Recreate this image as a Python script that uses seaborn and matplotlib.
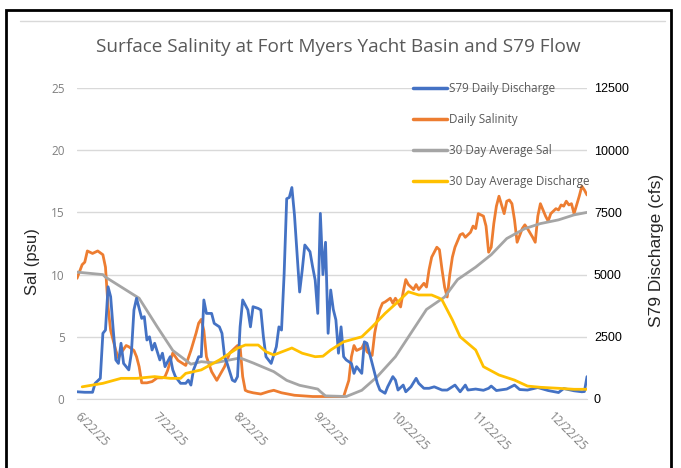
import pandas as pd
import matplotlib.pyplot as plt
from matplotlib.lines import Line2D
from matplotlib.patches import Rectangle
import seaborn as sns

start = pd.Timestamp("2025-06-22")

# daily salinity (psu), days after 6/22/25
sal_days = [0, 2, 3, 4, 6, 7, 8, 10, 11, 12, 13, 15, 16, 17, 19, 20, 22, 23, 24, 25,
            27, 29, 31, 33, 34, 35, 37, 38, 39, 42, 44, 46, 47, 48, 49, 50, 52, 54, 57, 59,
            62, 63, 64, 65, 66, 68, 71, 74, 76, 79, 84, 91, 103, 105, 106, 107, 108, 110, 111, 112,
            114, 115, 116, 117, 118, 119, 121, 122, 123, 125, 126, 127, 128, 130, 131, 132, 134, 135, 136, 137,
            139, 140, 141, 142, 143, 144, 145, 146, 148, 149, 150, 152, 153, 154, 155, 157, 158, 159, 160, 161,
            162, 163, 165, 166, 167, 168, 169, 170, 172, 173, 174, 176, 177, 178, 179, 181, 182, 183, 185, 186,
            187, 188, 189, 190, 191, 192, 194, 195, 196, 197]
sal_vals = [9.7, 10.8, 11.0, 11.9, 11.7, 11.8, 11.9, 11.6, 10.6, 7.4, 5.5, 3.9, 3.3, 3.7, 4.3, 4.2, 3.9, 3.4, 2.6, 1.3,
            1.3, 1.4, 1.7, 1.7, 1.8, 2.3, 3.7, 3.4, 3.1, 2.7, 3.9, 5.3, 6.1, 6.4, 5.5, 3.4, 2.2, 1.5, 2.6, 3.7,
            4.3, 4.2, 1.8, 0.7, 0.6, 0.5, 0.4, 0.6, 0.7, 0.5, 0.3, 0.2, 0.2, 1.5, 3.4, 4.3, 3.9, 4.1, 4.5, 3.8,
            3.5, 5.3, 6.4, 7.2, 7.7, 7.8, 8.1, 7.7, 8.1, 7.4, 8.6, 9.6, 9.2, 8.8, 9.2, 8.8, 9.3, 9.0, 10.4, 11.4,
            12.2, 12.0, 10.4, 9.0, 8.2, 10.0, 11.4, 12.2, 13.2, 13.3, 13.0, 13.4, 13.9, 13.7, 14.9, 14.7, 13.9, 11.8, 12.2, 14.1,
            15.5, 16.3, 14.9, 15.9, 16.0, 15.7, 14.4, 12.6, 13.7, 14.0, 13.7, 13.0, 12.6, 14.7, 15.7, 14.7, 14.3, 14.9, 15.3, 15.2,
            15.6, 15.5, 15.9, 15.6, 15.7, 14.9, 16.3, 17.1, 16.8, 16.4]

# 30 day average salinity (psu)
avg_sal_days = [0, 10, 11, 24, 31, 37, 44, 48, 53, 58, 63, 68, 76, 81, 86, 93, 94, 96,
                104, 110, 116, 123, 129, 135, 142, 147, 154, 160, 166, 173, 179, 186, 192, 197]
avg_sal_vals = [10.2, 10.0, 9.8, 8.1, 5.8, 3.9, 2.8, 3.0, 2.9, 3.1, 3.3, 2.9, 2.2, 1.5, 1.1, 0.8, 0.6, 0.25,
                0.2, 0.7, 1.8, 3.4, 5.3, 7.2, 8.2, 9.6, 10.6, 11.6, 12.9, 13.7, 14.1, 14.4, 14.8, 15.0]

# S79 daily discharge (cfs)
flow_days = [0, 3, 6, 7, 9, 10, 11, 12, 13, 14, 15, 16, 17, 18, 20, 21, 22, 23, 25, 26,
             27, 28, 29, 30, 32, 33, 34, 36, 37, 38, 40, 42, 43, 44, 45, 47, 48, 49, 50, 52,
             53, 55, 56, 57, 58, 60, 61, 62, 63, 64, 66, 67, 68, 70, 71, 72, 73, 75, 77, 78,
             79, 80, 81, 82, 83, 84, 85, 86, 87, 88, 90, 91, 92, 93, 94, 95, 96, 97, 98, 99,
             100, 101, 102, 103, 104, 106, 107, 108, 110, 111, 112, 114, 115, 116, 117, 119, 120, 122, 123, 124,
             126, 127, 129, 131, 132, 134, 136, 138, 141, 143, 146, 148, 150, 151, 154, 157, 159, 160, 162, 166,
             169, 171, 174, 178, 182, 186, 188, 192, 195, 196, 197]
flow_vals = [290, 270, 270, 630, 830, 2640, 2770, 4510, 4110, 2770, 1570, 1430, 2240, 1430, 1170, 1840, 3580, 4050, 3240, 3310,
             2370, 2500, 1970, 2240, 1570, 1840, 1300, 1700, 1170, 900, 630, 630, 760, 560, 1170, 1700, 1700, 3980, 3440, 3440,
             3040, 2900, 2640, 1700, 1430, 760, 700, 900, 2900, 3980, 3580, 2900, 3710, 3640, 3580, 2500, 1700, 1430, 2100, 2900,
             2770, 5000, 8050, 8100, 8500, 7400, 5860, 4300, 5180, 6190, 5920, 5320, 4780, 3440, 7460, 5000, 6300, 2640, 4380, 3600,
             3180, 1840, 2900, 1700, 1570, 1430, 1030, 1300, 1030, 2300, 2240, 1430, 1030, 630, 360, 230, 490, 900, 760, 360,
             560, 290, 490, 830, 630, 430, 430, 490, 360, 360, 560, 290, 560, 360, 400, 350, 430, 520, 340, 400,
             560, 380, 360, 460, 340, 260, 420, 330, 290, 300, 900]

# 30 day average discharge (cfs)
avg_flow_days = [2, 10, 17, 23, 30, 36, 40, 42, 48, 55, 62, 65, 70, 73, 76, 83, 87, 92, 95, 98,
                 103, 110, 114, 119, 124, 128, 132, 137, 140, 141, 145, 148, 154, 157, 163, 169, 174, 179, 186, 192, 197]
avg_flow_vals = [490, 630, 830, 830, 900, 830, 830, 1030, 1170, 1570, 2040, 2170, 2170, 1900, 1770, 2050, 1840, 1700, 1720, 1970,
                 2300, 2500, 2900, 3440, 3910, 4310, 4180, 4180, 4050, 3980, 3180, 2500, 1970, 1300, 965, 760, 520, 470, 430, 390, 390]

tick_labels = ["6/22/25", "7/22/25", "8/22/25", "9/22/25", "10/22/25", "11/22/25", "12/22/25"]
sal_ticks = [0, 5, 10, 15, 20, 25]
flow_ticks = [0, 2500, 5000, 7500, 10000, 12500]

BLUE = "#4472C4"
ORANGE = "#ED7D31"
GRAY = "#A5A5A5"
YELLOW = "#FFC000"
TXT = "#595959"


def to_dates(days):
    return start + pd.to_timedelta(days, unit="D")


sns.set_style("white")
plt.rcParams['font.family'] = ['Open Sans', 'DejaVu Sans']

fig = plt.figure(figsize=(6.81, 4.68), dpi=100)
ax = fig.add_axes([77/681, 1 - 399/468, (587 - 77)/681, (399 - 88)/468])
ax2 = ax.twinx()

lw = 2.0
sns.lineplot(x=to_dates(sal_days), y=sal_vals, ax=ax, color=ORANGE, linewidth=lw, legend=False)
sns.lineplot(x=to_dates(avg_sal_days), y=avg_sal_vals, ax=ax, color=GRAY, linewidth=lw, legend=False)
sns.lineplot(x=to_dates(flow_days), y=flow_vals, ax=ax2, color=BLUE, linewidth=lw, legend=False)
sns.lineplot(x=to_dates(avg_flow_days), y=avg_flow_vals, ax=ax2, color=YELLOW, linewidth=lw, legend=False)

ax.set_xlim(start, to_dates([197])[0])
ax.set_ylim(0, 25)
ax2.set_ylim(0, 12500)
ax.set_yticks(sal_ticks)
ax2.set_yticks(flow_ticks)
ax.set_yticklabels([str(t) for t in sal_ticks], color="#808080", fontsize=8.5)
ax2.set_yticklabels([str(t) for t in flow_ticks], color="black", fontsize=9,
                    family=['Liberation Sans', 'DejaVu Sans'])
tick_dates = pd.to_datetime(tick_labels, format="%m/%d/%y")
ax.set_xticks(tick_dates)
ax.set_xticklabels(tick_labels, color="#808080", fontsize=8.5)
for lbl in ax.get_xticklabels():
    lbl.set_rotation(-45)
    lbl.set_ha("left")
    lbl.set_va("center")
    lbl.set_rotation_mode("anchor")

ax.set_xlabel("")
ax.set_ylabel("")
ax2.set_ylabel("")
ax.yaxis.grid(True, color="#d9d9d9", linewidth=1)
ax2.grid(False)
for a in (ax, ax2):
    for s in a.spines.values():
        s.set_visible(False)
ax.spines["bottom"].set_visible(True)
ax.spines["bottom"].set_color("#d9d9d9")
ax.tick_params(axis="x", length=4, color="#d9d9d9", direction="out", pad=7)
ax.tick_params(axis="y", length=0, pad=9)
ax2.tick_params(axis="y", length=0, pad=5)

fig.text(338/681, 1 - 47/468, "Surface Salinity at Fort Myers Yacht Basin and S79 Flow",
         ha="center", va="center", fontsize=13.7, color=TXT)
fig.text(33/681, 1 - 262/468, "Sal (psu)", rotation=90, ha="center", va="center",
         fontsize=12, family=['Liberation Sans', 'DejaVu Sans'])
fig.text(656/681, 1 - 250/468, "S79 Discharge (cfs)", rotation=90, ha="center", va="center",
         fontsize=12.5, family=['Liberation Sans', 'DejaVu Sans'])

handles = [Line2D([], [], color=c, linewidth=2.5) for c in (BLUE, ORANGE, GRAY, YELLOW)]
labels = ["S79 Daily Discharge", "Daily Salinity", "30 Day Average Sal", "30 Day Average Discharge"]
fig.legend(handles, labels, loc="upper left", bbox_to_anchor=(413/681, 1 - 82/468),
           frameon=False, fontsize=8.4, handlelength=2.9, handletextpad=0.2,
           labelspacing=1.55, borderpad=0, borderaxespad=0, labelcolor=TXT)

# outer frames
fig.add_artist(Line2D([20/681, 665/681], [1 - 21/468, 1 - 21/468], color="#d9d9d9", linewidth=1))
fig.add_artist(Rectangle((6/681, -0.1), (671 - 6)/681, 1.1 - 10/468, fill=False,
                         edgecolor="black", linewidth=2, transform=fig.transFigure))

fig.savefig("out.png", dpi=100)
